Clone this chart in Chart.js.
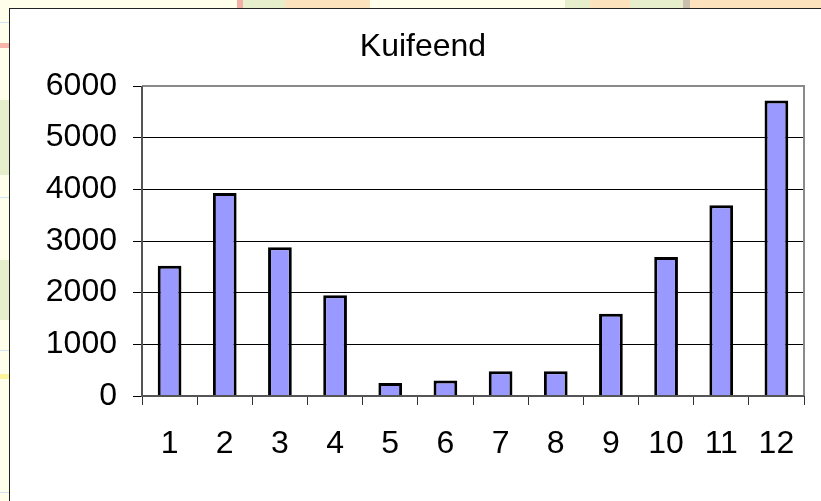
<!DOCTYPE html>
<html><head><meta charset="utf-8">
<style>
html,body{margin:0;padding:0;width:821px;height:501px;overflow:hidden;background:#fffeea}
.p{position:absolute}
#box{position:absolute;left:9px;top:8px;width:812px;height:493px;background:#fff;border-top:1px solid #222;border-left:1px solid #222;box-sizing:border-box}
#c{display:block}
</style>
<script src="https://cdn.jsdelivr.net/npm/chart.js@4"></script>
</head><body>
<div class="p" style="left:0;top:100px;width:9px;height:75px;background:#e6eecb"></div>
<div class="p" style="left:0;top:260px;width:9px;height:60px;background:#e6eecb"></div>
<div class="p" style="left:0;top:43px;width:9px;height:5px;background:#f8b4a8"></div>
<div class="p" style="left:0;top:374px;width:9px;height:5px;background:#fdf39b"></div>
<div class="p" style="left:0;top:22px;width:9px;height:1px;background:#cfe3f2"></div>
<div class="p" style="left:0;top:197px;width:9px;height:1px;background:#cfe3f2"></div>
<div class="p" style="left:0;top:350px;width:9px;height:1px;background:#cfe3f2"></div>
<div class="p" style="left:0;top:492px;width:9px;height:1px;background:#cfe3f2"></div>
<div class="p" style="left:237px;top:0;width:6px;height:8px;background:#f4b0a4"></div>
<div class="p" style="left:243px;top:0;width:42px;height:8px;background:#e6eecb"></div>
<div class="p" style="left:285px;top:0;width:85px;height:8px;background:#fde3bd"></div>
<div class="p" style="left:565px;top:0;width:118px;height:8px;background:#e6eecb"></div>
<div class="p" style="left:590px;top:0;width:40px;height:8px;background:#fde3bd"></div>
<div class="p" style="left:683px;top:0;width:7px;height:8px;background:#c9bfae"></div>
<div class="p" style="left:690px;top:0;width:131px;height:8px;background:#fde3bd"></div>
<div id="box"><canvas id="c" width="811" height="492"></canvas></div>
<script>
const chartTitle = "Kuifeend";
const categories = ["1","2","3","4","5","6","7","8","9","10","11","12"];
const values = [2520,3930,2880,1950,250,300,480,480,1590,2690,3690,5720];
const yTicks = [0,1000,2000,3000,4000,5000,6000];
const FONT = "'Liberation Sans', Arial, sans-serif";
const plotFrame = {
  id:'plotFrame',
  afterDatasetsDraw(ch){
    const a=ch.chartArea, g=ch.ctx;
    g.save();
    g.strokeStyle='#8a8a8a'; g.lineWidth=2;
    g.beginPath();
    g.moveTo(a.left,a.top); g.lineTo(a.right,a.top); g.lineTo(a.right,a.bottom);
    g.stroke();
    g.strokeStyle='#555'; g.lineWidth=2;
    g.beginPath();
    g.moveTo(a.left,a.top); g.lineTo(a.left,a.bottom); g.lineTo(a.right,a.bottom);
    g.stroke();
    g.restore();
  }
};
new Chart(document.getElementById('c'),{
  type:'bar',
  data:{labels:categories,datasets:[{data:values,backgroundColor:'#9999ff',borderColor:'#000',borderWidth:3,barPercentage:0.43,categoryPercentage:1}]},
  plugins:[plotFrame],
  options:{
    responsive:false,animation:false,
    layout:{padding:{left:15,right:0,top:0,bottom:0}},
    plugins:{
      legend:{display:false},tooltip:{enabled:false},
      title:{display:true,text:chartTitle,color:'#000',font:{family:FONT,size:32,weight:'normal'},padding:{top:19,bottom:19.6}}
    },
    scales:{
      x:{
        grid:{display:true,drawOnChartArea:false,drawTicks:true,tickLength:9,color:'#333',lineWidth:1},
        border:{display:false},
        ticks:{color:'#000',font:{family:FONT,size:32},padding:20,maxRotation:0,autoSkip:false},
        afterFit(s){s.height=105;}
      },
      y:{
        min:0,max:6000,
        afterBuildTicks(s){s.ticks=yTicks.map(v=>({value:v}));},
        grid:{color:'#000',lineWidth:1,tickLength:9},
        border:{display:false},
        ticks:{color:'#000',font:{family:FONT,size:32},padding:16,callback:v=>String(v)},
        afterFit(s){s.width=117;}
      },
      rightGap:{
        position:'right',
        grid:{display:false},
        border:{display:false},
        ticks:{display:false},
        afterFit(s){s.width=17;}
      }
    }
  }
});
</script>
</body></html>
